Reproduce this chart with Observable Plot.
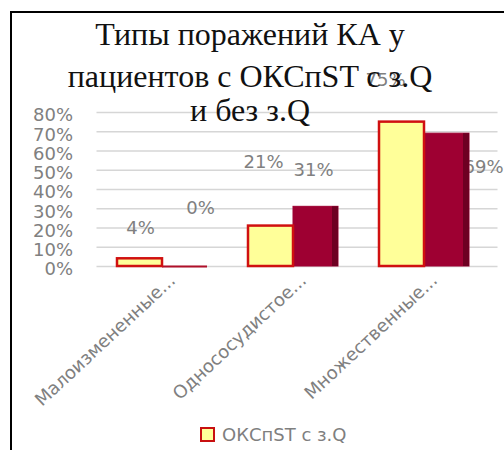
<!DOCTYPE html>
<html><head><meta charset="utf-8">
<script src="https://cdn.jsdelivr.net/npm/d3@7"></script>
<script src="https://cdn.jsdelivr.net/npm/@observablehq/plot@0.6"></script>
<style>
body{margin:0;background:#fff;}
#wrap{position:relative;width:504px;height:450px;overflow:hidden;background:#fff;}
#frame{position:absolute;left:10px;top:11px;width:600px;height:600px;border-left:2px solid #000;border-top:2px solid #000;}
#chart{position:absolute;left:0;top:0;}
.tl{position:absolute;left:0;width:500px;text-align:center;font-family:"Liberation Serif",serif;font-size:32px;line-height:36px;color:#111;white-space:nowrap;}
#legend{position:absolute;left:200px;top:424px;font-family:"DejaVu Sans",sans-serif;font-size:18px;color:#7f7f7f;display:flex;align-items:center;white-space:nowrap;}
.sw{width:11px;height:11px;border:2px solid #C81010;background:#FFFF99;margin-right:7px;}
</style></head>
<body>
<div id="wrap">
  <div id="frame"></div>
  <div id="chart"></div>
  <div id="title"></div>
  <div id="legend"></div>
</div>
<script>
// ---- data ----
const titleLines = ["Типы поражений КА у", "пациентов с ОКСпST с з.Q", "и без з.Q"];
const categories = ["Малоизмененные...", "Однососудистое...", "Множественные..."];
const seriesNames = ["ОКСпST с з.Q", "ОКСпST без з.Q"];
const withQ = [0.04, 0.21, 0.75];
const withoutQ = [0.00, 0.31, 0.69];
const yTicks = [0, 0.1, 0.2, 0.3, 0.4, 0.5, 0.6, 0.7, 0.8];

// ---- layout (label placement, in value units / px offsets) ----
const labelPlace = [
  {s: 0, i: 0, ly: 0.197, dx: -22},
  {s: 1, i: 0, ly: 0.301, dx: 38},
  {s: 0, i: 1, ly: 0.540, dx: -30},
  {s: 1, i: 1, ly: 0.499, dx: 20},
  {s: 0, i: 2, ly: 0.966, dx: -39},
  {s: 1, i: 2, ly: 0.514, dx: 59}
];

const fmt = d3.format(".0%");
const rows1 = categories.map((c, i) => ({cat: c, v: withQ[i]}));
const rows2 = categories.map((c, i) => ({cat: c, v: withoutQ[i]}));
const seriesVals = [withQ, withoutQ];

const font = "DejaVu Sans";
const grey = "#808080";

const labelMarks = labelPlace.map(p => Plot.text([{cat: categories[p.i], ly: p.ly, t: fmt(seriesVals[p.s][p.i])}], {
  x: "cat", y: "ly", text: "t", dx: p.dx, fill: grey, fontSize: 18, fontFamily: font
}));

const chart = Plot.plot({
  width: 504,
  height: 450,
  marginTop: 112,
  marginBottom: 184,
  marginLeft: 96.5,
  marginRight: 14.5,
  style: {fontFamily: font, fontSize: "18px", color: grey, background: "transparent", overflow: "visible"},
  x: {domain: categories, paddingInner: 0.31, paddingOuter: 0.155, label: null},
  y: {domain: [0, 0.8], label: null},
  marks: [
    Plot.ruleY(yTicks, {y: d => d, stroke: "#d6d6d6", strokeWidth: 1.6, insetRight: -8}),
    Plot.axisY(yTicks, {tickSize: 0, tickPadding: 24, tickFormat: fmt, fill: grey, fontSize: 18, dy: 3, label: null}),
    Plot.axisX({tickSize: 0, tickRotate: -43, tickPadding: 11, dx: 10, fill: grey, fontSize: 18, label: null}),
    labelMarks[5],
    Plot.barY(rows2, {x: "cat", y: "v", fill: "#9E0032", stroke: "#9E0032", strokeWidth: 1, insetLeft: 45}),
    Plot.tickY(rows2, {filter: d => d.v === 0, x: "cat", y: "v", stroke: "#B0102A", strokeWidth: 2, insetLeft: 45}),
    Plot.barY(rows2, {x: "cat", y: "v", fill: "#6e0022", insetLeft: 84}),
    Plot.barY(rows1, {x: "cat", y: "v", fill: "#FFFF99", stroke: "#D01010", strokeWidth: 2.5, insetRight: 45}),
    ...labelMarks.slice(0, 5)
  ]
});
document.getElementById("chart").appendChild(chart);

// title
const baselines = [45, 87, 121];
const tEl = document.getElementById("title");
titleLines.forEach((t, i) => {
  const d = document.createElement("div");
  d.className = "tl";
  d.style.top = (baselines[i] - 29) + "px";
  d.textContent = t;
  tEl.appendChild(d);
});

// legend (first series only, as in the reference)
const lg = document.getElementById("legend");
const sw = document.createElement("span");
sw.className = "sw";
lg.appendChild(sw);
const lt = document.createElement("span");
lt.textContent = seriesNames[0];
lg.appendChild(lt);
</script>
</body></html>
